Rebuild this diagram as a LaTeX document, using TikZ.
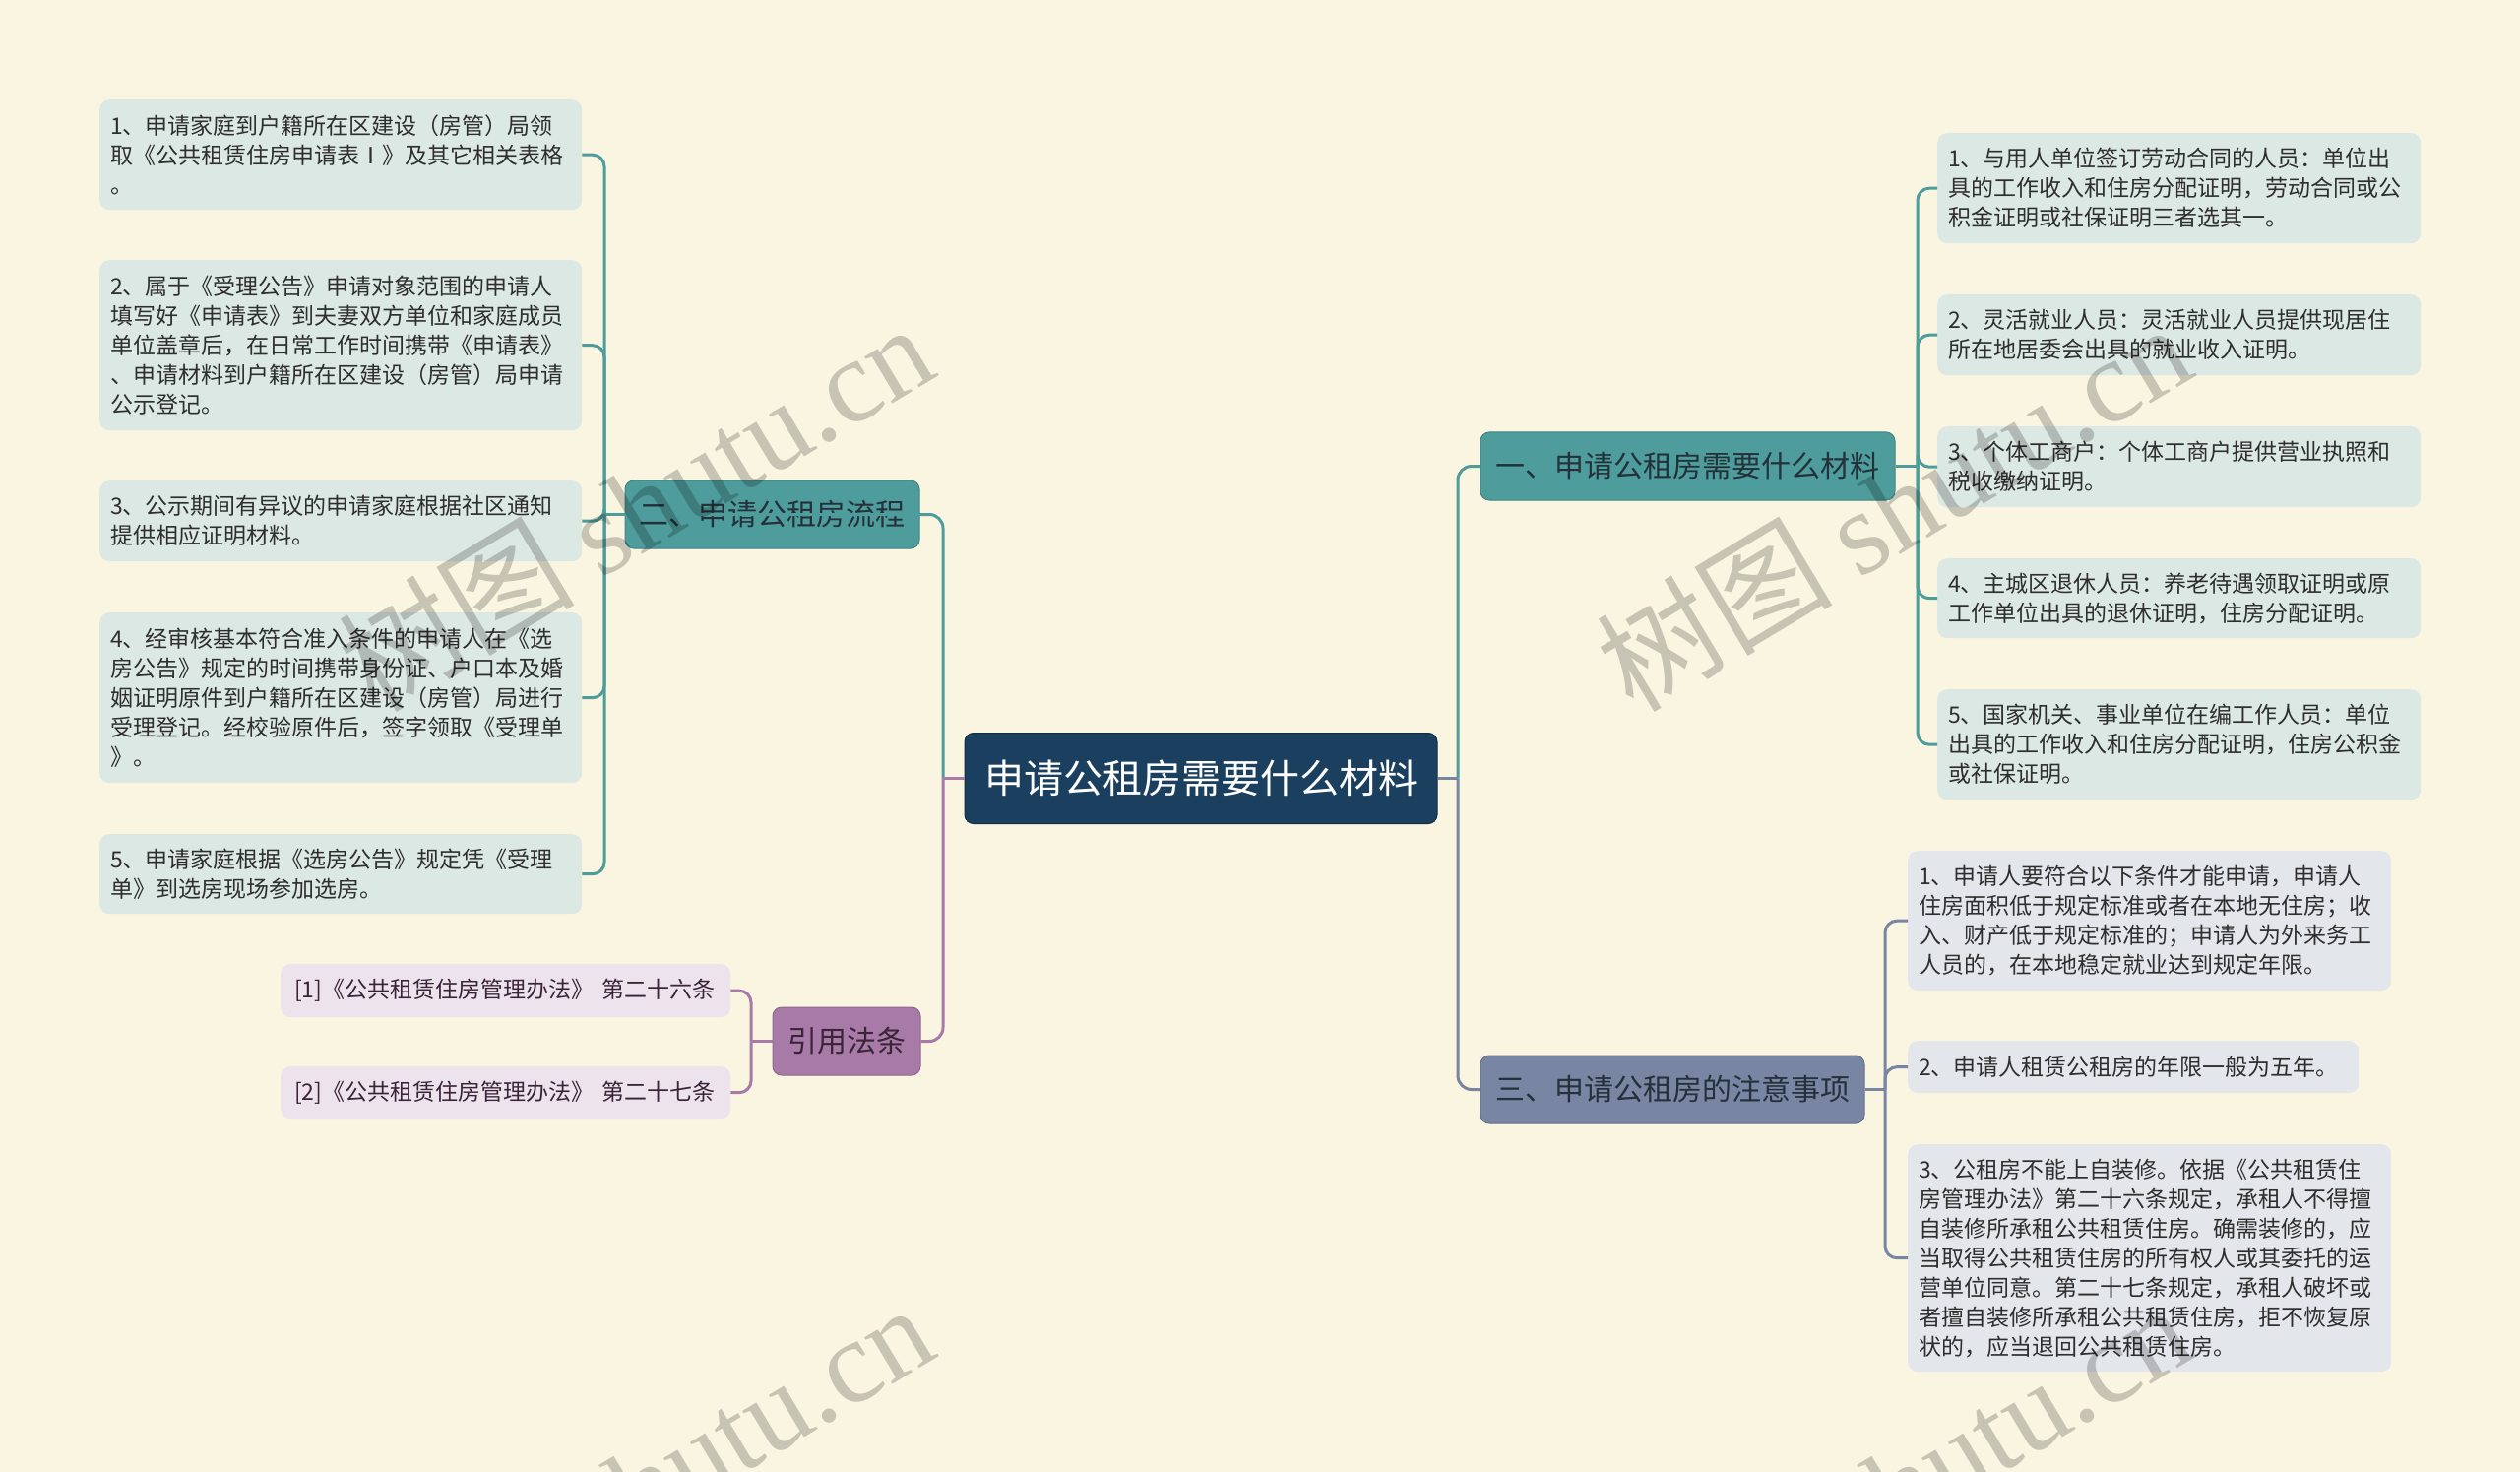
\documentclass[tikz,border=0pt]{standalone}
\usepackage{fontspec}
\setmainfont{Noto Sans CJK SC}
\newfontfamily\wmserif{Liberation Serif}
\definecolor{bg}{HTML}{FAF5E1}
\definecolor{cnavy}{HTML}{1B3F5E}
\definecolor{cteal}{HTML}{4E9C9C}
\definecolor{cpurp}{HTML}{A77AA8}
\definecolor{cslate}{HTML}{7886A4}
\definecolor{lteal}{HTML}{DCE8E4}
\definecolor{lpurp}{HTML}{EDE3EC}
\definecolor{lslate}{HTML}{E3E6EB}
\definecolor{txt}{HTML}{2E2E2E}
\definecolor{btxt}{HTML}{24313A}
\definecolor{ptxt}{HTML}{3A2438}
\tikzset{
  centerbox/.style={fill=cnavy, draw=cnavy!70!black, line width=1pt, rounded corners=9pt, text=white,
    font=\fontsize{40pt}{48pt}\selectfont, minimum width=480pt, minimum height=92pt, inner sep=0pt},
  branchbox/.style={rounded corners=9pt, text=btxt, line width=1pt,
    font=\fontsize{30pt}{36pt}\selectfont, minimum height=69pt, inner sep=0pt},
  leafbox/.style={anchor=north west, rounded corners=10pt, inner xsep=11pt, inner ysep=6pt,
    align=left, text=txt, font=\fontsize{23pt}{30pt}\selectfont},
  lawbox/.style={anchor=north west, rounded corners=10pt, inner xsep=14pt, inner ysep=0pt, text=ptxt,
    font=\fontsize{23pt}{30pt}\selectfont, text width=429pt, align=left},
  lnT/.style={draw=cteal, line width=3pt},
  lnP/.style={draw=cpurp, line width=3pt},
  lnS/.style={draw=cslate, line width=3pt},
  wm/.style={rotate=31, text=black, opacity=0.2, font=\fontsize{120pt}{130pt}\selectfont}
}
\begin{document}
\begin{tikzpicture}[x=1pt,y=-1pt]
\fill[bg] (0,0) rectangle (2560,1495);
\useasboundingbox (0,0) rectangle (2560,1495);

% center
\node[centerbox] (c) at (1220,790.5) {申请公租房需要什么材料};

% branches
\node[branchbox, fill=cteal, draw=cteal!85!black, minimum width=421pt] (b1) at (1714.5,473.5) {一、申请公租房需要什么材料};
\node[branchbox, fill=cteal, draw=cteal!85!black, minimum width=299pt] (b2) at (784.5,522.5) {二、申请公租房流程};
\node[branchbox, fill=cpurp, draw=cpurp!85!black, text=ptxt, minimum width=150pt] (b4) at (860,1057.5) {引用法条};
\node[branchbox, fill=cslate, draw=cslate!85!black, minimum width=390pt] (b3) at (1699,1106.5) {三、申请公租房的注意事项};

% left leaves (二)
\node[leafbox, fill=lteal, text width=468pt, minimum height=112pt] (l21) at (101,101)
 {1、申请家庭到户籍所在区建设（房管）局领\\取《公共租赁住房申请表Ⅰ》及其它相关表格\\。};
\node[leafbox, fill=lteal, text width=468pt, minimum height=173pt] (l22) at (101,264)
 {2、属于《受理公告》申请对象范围的申请人\\填写好《申请表》到夫妻双方单位和家庭成员\\单位盖章后，在日常工作时间携带《申请表》\\、申请材料到户籍所在区建设（房管）局申请\\公示登记。};
\node[leafbox, fill=lteal, text width=468pt, minimum height=82pt] (l23) at (101,488)
 {3、公示期间有异议的申请家庭根据社区通知\\提供相应证明材料。};
\node[leafbox, fill=lteal, text width=468pt, minimum height=173pt] (l24) at (101,622)
 {4、经审核基本符合准入条件的申请人在《选\\房公告》规定的时间携带身份证、户口本及婚\\姻证明原件到户籍所在区建设（房管）局进行\\受理登记。经校验原件后，签字领取《受理单\\》。};
\node[leafbox, fill=lteal, text width=468pt, minimum height=81pt] (l25) at (101,847)
 {5、申请家庭根据《选房公告》规定凭《受理\\单》到选房现场参加选房。};

% 引用 leaves
\node[lawbox, fill=lpurp, minimum height=54pt] (l41) at (285,979)
 {[1]《公共租赁住房管理办法》 第二十六条};
\node[lawbox, fill=lpurp, minimum height=53pt] (l42) at (285,1083)
 {[2]《公共租赁住房管理办法》 第二十七条};

% right leaves (一)
\node[leafbox, fill=lteal, text width=469pt, minimum height=112pt] (l11) at (1968,135)
 {1、与用人单位签订劳动合同的人员：单位出\\具的工作收入和住房分配证明，劳动合同或公\\积金证明或社保证明三者选其一。};
\node[leafbox, fill=lteal, text width=469pt, minimum height=82pt] (l12) at (1968,299)
 {2、灵活就业人员：灵活就业人员提供现居住\\所在地居委会出具的就业收入证明。};
\node[leafbox, fill=lteal, text width=469pt, minimum height=82pt] (l13) at (1968,433)
 {3、个体工商户：个体工商户提供营业执照和\\税收缴纳证明。};
\node[leafbox, fill=lteal, text width=469pt, minimum height=81pt] (l14) at (1968,567)
 {4、主城区退休人员：养老待遇领取证明或原\\工作单位出具的退休证明，住房分配证明。};
\node[leafbox, fill=lteal, text width=469pt, minimum height=112pt] (l15) at (1968,700)
 {5、国家机关、事业单位在编工作人员：单位\\出具的工作收入和住房分配证明，住房公积金\\或社保证明。};

% right leaves (三)
\node[leafbox, fill=lslate, text width=469pt, minimum height=142pt] (l31) at (1938,864)
 {1、申请人要符合以下条件才能申请，申请人\\住房面积低于规定标准或者在本地无住房；收\\入、财产低于规定标准的；申请人为外来务工\\人员的，在本地稳定就业达到规定年限。};
\node[leafbox, fill=lslate, text width=436pt, minimum height=53pt] (l32) at (1938,1057)
 {2、申请人租赁公租房的年限一般为五年。};
\node[leafbox, fill=lslate, text width=469pt, minimum height=231pt] (l33) at (1938,1162)
 {3、公租房不能上自装修。依据《公共租赁住\\房管理办法》第二十六条规定，承租人不得擅\\自装修所承租公共租赁住房。确需装修的，应\\当取得公共租赁住房的所有权人或其委托的运\\营单位同意。第二十七条规定，承租人破坏或\\者擅自装修所承租公共租赁住房，拒不恢复原\\状的，应当退回公共租赁住房。};

% center connectors
\coordinate (cl) at (958,790.5);
\coordinate (cr) at (1481,790.5);
\draw[lnT, rounded corners=14pt] (cl) |- (b2.west);
\draw[lnP, rounded corners=14pt] (cl) |- (b4.east);
\draw[lnP] (c.west) -- (cl);
\draw[lnT, rounded corners=14pt] (cr) |- (b1.west);
\draw[lnS, rounded corners=14pt] (cr) |- (b3.west);
\draw[lnS] (c.east) -- (cr);

% 二 connectors
\coordinate (t2) at (614,522.5);
\draw[lnT] (b2.west) -- (t2);
\foreach \n in {l21,l22,l23,l24,l25} \draw[lnT, rounded corners=12pt] (t2) |- (\n.east);

% 引用 connectors
\coordinate (t4) at (763,1057.5);
\draw[lnP] (b4.west) -- (t4);
\foreach \n in {l41,l42} \draw[lnP, rounded corners=12pt] (t4) |- (\n.east);

% 一 connectors
\coordinate (t1) at (1948,473.5);
\draw[lnT] (b1.east) -- (t1);
\foreach \n in {l11,l12,l13,l14,l15} \draw[lnT, rounded corners=12pt] (t1) |- (\n.west);

% 三 connectors
\coordinate (t3) at (1915,1106.5);
\draw[lnS] (b3.east) -- (t3);
\foreach \n in {l31,l32,l33} \draw[lnS, rounded corners=12pt] (t3) |- (\n.west);

% watermarks
\begin{scope}
\clip (0,0) rectangle (2560,1495);
\node[wm] (w1) at (645,514) {树图 {\wmserif shutu.cn}};
\node[wm] (w2) at (1923,514) {树图 {\wmserif shutu.cn}};
\node[wm] (w3) at (645,1510) {树图 {\wmserif shutu.cn}};
\node[wm] (w4) at (1923,1510) {树图 {\wmserif shutu.cn}};
\end{scope}
\end{tikzpicture}
\end{document}
